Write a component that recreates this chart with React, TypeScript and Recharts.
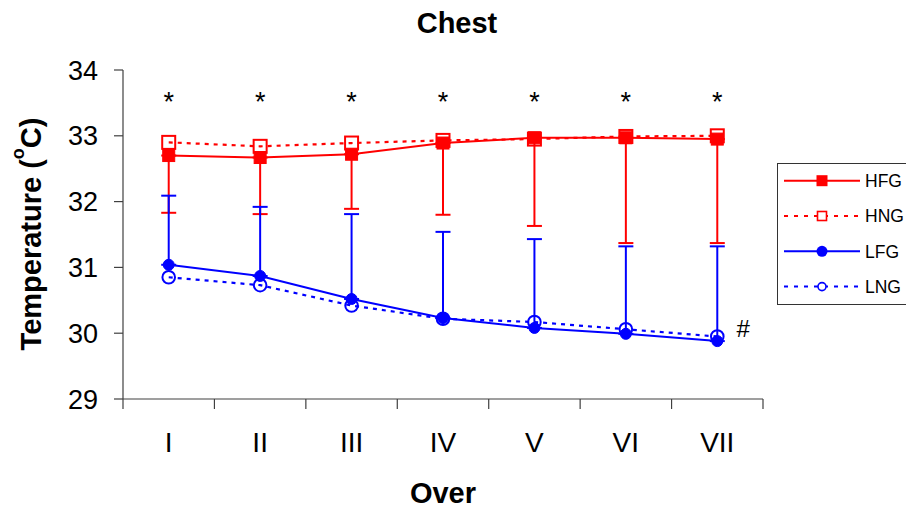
import React from 'react';
import { LineChart, Line, XAxis, YAxis, ErrorBar, LabelList } from 'recharts';

// ---- data ----
const categories = ['I', 'II', 'III', 'IV', 'V', 'VI', 'VII'];
const hfg = [32.70, 32.67, 32.72, 32.89, 32.97, 32.97, 32.95];
const hfgSd = [0.87, 0.86, 0.83, 1.09, 1.34, 1.60, 1.58];
const hng = [32.90, 32.84, 32.89, 32.93, 32.95, 32.99, 33.00];
const lfg = [31.04, 30.87, 30.52, 30.23, 30.08, 29.99, 29.88];
const lfgSd = [1.05, 1.05, 1.29, 1.31, 1.35, 1.33, 1.44];
const lng = [30.85, 30.73, 30.42, 30.22, 30.17, 30.06, 29.95];
const sigMarks = ['*', '*', '*', '*', '*', '*', '*'];
const lngNotes = ['', '', '', '', '', '', '#'];
const sigLevel = 33.62;
const yTicks = [29, 30, 31, 32, 33, 34];
const seriesNames = ['HFG', 'HNG', 'LFG', 'LNG'];

const FONT = '"Liberation Sans", Arial, Helvetica, sans-serif';
const RED = '#FF0000';
const BLUE = '#0000FF';
const AXIS = '#404040';

const data = categories.map((c, i) => ({
  x: i + 0.5,
  cat: c,
  hfg: hfg[i],
  hfgErr: [hfgSd[i], 0],
  hng: hng[i],
  lfg: lfg[i],
  lfgErr: [0, lfgSd[i]],
  lng: lng[i],
  sig: sigLevel,
  sigMark: sigMarks[i],
  note: lngNotes[i],
}));

const xTicks = Array.from({ length: categories.length * 2 + 1 }, (_, k) => k / 2);

const XTick = (props: any) => {
  const { x, y, payload } = props;
  const v = payload.value;
  if (Number.isInteger(v)) {
    return <line x1={x} x2={x} y1={y} y2={y + 10} stroke={AXIS} strokeWidth={1.2} />;
  }
  return (
    <text x={x} y={y + 53} textAnchor="middle" fontSize={28} fontFamily={FONT} fill="#000">
      {categories[Math.floor(v)]}
    </text>
  );
};

const FilledSquare = (p: any) => (
  <rect key={`fs${p.index}`} x={p.cx - 6} y={p.cy - 6} width={12} height={12} fill={RED} stroke={RED} strokeWidth={1} />
);
const OpenSquare = (p: any) => (
  <rect key={`os${p.index}`} x={p.cx - 6.5} y={p.cy - 6.5} width={13} height={13} fill="none" stroke={RED} strokeWidth={2} />
);
const FilledCircle = (p: any) => (
  <circle key={`fc${p.index}`} cx={p.cx} cy={p.cy} r={5.5} fill={BLUE} stroke={BLUE} strokeWidth={1} />
);
const OpenCircle = (p: any) => (
  <circle key={`oc${p.index}`} cx={p.cx} cy={p.cy} r={6.3} fill="none" stroke={BLUE} strokeWidth={2} />
);

const SigLabel = (p: any) => (
  <text key={`sg${p.index}`} x={p.x} y={p.y + 16} textAnchor="middle" fontSize={27} fontFamily={FONT} fill="#000">
    {p.value}
  </text>
);
const NoteLabel = (p: any) =>
  p.value ? (
    <text key={`nt${p.index}`} x={p.x + 26} y={p.y + 1} textAnchor="middle" fontSize={24} fontFamily={FONT} fill="#000">
      {p.value}
    </text>
  ) : null;

const legendRows = [
  { name: seriesNames[0], color: RED, dash: undefined, marker: 'fs' },
  { name: seriesNames[1], color: RED, dash: '4 6', marker: 'os' },
  { name: seriesNames[2], color: BLUE, dash: undefined, marker: 'fc' },
  { name: seriesNames[3], color: BLUE, dash: '4 6', marker: 'oc' },
];

export default function App() {
  return (
    <div style={{ position: 'absolute', left: 0, top: 0, width: 906, height: 508, overflow: 'hidden', background: '#fff' }}>
      <LineChart
        width={906}
        height={508}
        data={data}
        margin={{ top: 70, right: 143, bottom: 0, left: 0 }}
      >
        <XAxis
          dataKey="x"
          type="number"
          domain={[0, categories.length]}
          ticks={xTicks}
          interval={0}
          tickLine={false}
          tickSize={0}
          tickMargin={0}
          tick={<XTick />}
          axisLine={{ stroke: AXIS, strokeWidth: 1.2 }}
          height={109}
          allowDataOverflow
        />
        <YAxis
          type="number"
          domain={[29, 34]}
          ticks={yTicks}
          interval={0}
          width={123}
          tickSize={9}
          tickMargin={16}
          tick={{ fontSize: 27, fill: '#000', fontFamily: FONT }}
          axisLine={{ stroke: AXIS, strokeWidth: 1.2 }}
          tickLine={{ stroke: AXIS, strokeWidth: 1.2 }}
          allowDataOverflow
        />
        <Line
          dataKey="sig"
          stroke="none"
          dot={false}
          activeDot={false}
          isAnimationActive={false}
          legendType="none"
        >
          <LabelList dataKey="sigMark" content={SigLabel} />
        </Line>
        <Line
          dataKey="hfg"
          stroke={RED}
          strokeWidth={2}
          dot={FilledSquare}
          activeDot={false}
          isAnimationActive={false}
        >
          <ErrorBar dataKey="hfgErr" direction="y" width={7.5} stroke={RED} strokeWidth={2} />
        </Line>
        <Line
          dataKey="hng"
          stroke={RED}
          strokeWidth={2.2}
          strokeDasharray="4 5"
          dot={OpenSquare}
          activeDot={false}
          isAnimationActive={false}
        />
        <Line
          dataKey="lfg"
          stroke={BLUE}
          strokeWidth={2}
          dot={FilledCircle}
          activeDot={false}
          isAnimationActive={false}
        >
          <ErrorBar dataKey="lfgErr" direction="y" width={7.5} stroke={BLUE} strokeWidth={2} />
        </Line>
        <Line
          dataKey="lng"
          stroke={BLUE}
          strokeWidth={2.2}
          strokeDasharray="4 5"
          dot={OpenCircle}
          activeDot={false}
          isAnimationActive={false}
        >
          <LabelList dataKey="note" content={NoteLabel} />
        </Line>
      </LineChart>
      <svg
        width={906}
        height={508}
        style={{ position: 'absolute', left: 0, top: 0, pointerEvents: 'none' }}
        fontFamily={FONT}
      >
        <text x={457} y={33} textAnchor="middle" fontSize={29} fontWeight="bold" fill="#000">
          Chest
        </text>
        <text
          transform="translate(40.5,234) rotate(-90)"
          textAnchor="middle"
          fontSize={29}
          fontWeight="bold"
          fill="#000"
        >
          Temperature (
          <tspan dy={-17} fontSize={18}>o</tspan>
          <tspan dy={17}>C)</tspan>
        </text>
        <text x={443} y={503} textAnchor="middle" fontSize={29} fontWeight="bold" fill="#000">
          Over
        </text>
        <rect x={777.5} y={163.5} width={140} height={141} fill="#fff" stroke="#333" strokeWidth={1} />
        {legendRows.map((r, i) => {
          const cy = 180.7 + i * 35.3;
          const mx = 822;
          return (
            <g key={r.name}>
              <line x1={784} x2={860} y1={cy} y2={cy} stroke={r.color} strokeWidth={2} strokeDasharray={r.dash} />
              {r.marker === 'fs' && <rect x={mx - 5.5} y={cy - 5.5} width={11} height={11} fill={r.color} />}
              {r.marker === 'os' && (
                <rect x={mx - 4.5} y={cy - 4.5} width={9} height={9} fill="#fff" stroke={r.color} strokeWidth={1.6} />
              )}
              {r.marker === 'fc' && <circle cx={mx} cy={cy} r={5.5} fill={r.color} />}
              {r.marker === 'oc' && <circle cx={mx} cy={cy} r={4} fill="#fff" stroke={r.color} strokeWidth={1.6} />}
              <text x={865} y={cy + 6.3} fontSize={17.5} fill="#000">
                {r.name}
              </text>
            </g>
          );
        })}
      </svg>
    </div>
  );
}
